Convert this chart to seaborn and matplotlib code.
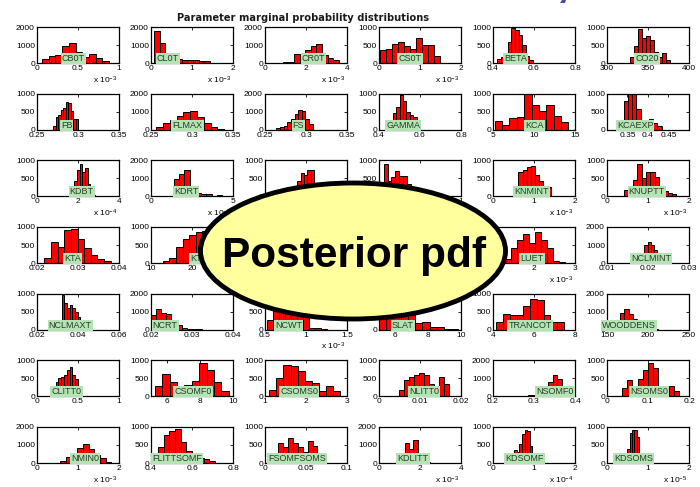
import numpy as np
import pandas as pd
import matplotlib
matplotlib.use("Agg")
import matplotlib.pyplot as plt
import matplotlib.transforms as mtransforms
from matplotlib.patches import Ellipse, Polygon
import seaborn as sns

# ---------------------------------------------------------------- data
TITLE = "Parameter marginal probability distributions"
BANNER = "Posterior pdf"

PARAM_NAMES = [
    "CB0T", "CL0T", "CR0T", "CS0T", "BETA", "CO20",
    "FB", "FLMAX", "FS", "GAMMA", "KCA", "KCAEXP",
    "KDBT", "KDRT", "KDLT", "KEXTT", "KNMINT", "KNUPTT",
    "KTA", "KTB", "LAIMAXT", "LFALLT", "LUET", "NCLMINT",
    "NCLMAXT", "NCRT", "NCWT", "SLAT", "TRANCOT", "WOODDENS",
    "CLITT0", "CSOMF0", "CSOMS0", "NLITT0", "NSOMF0", "NSOMS0",
    "NMIN0", "FLITTSOMF", "FSOMFSOMS", "KDLITT", "KDSOMF", "KDSOMS",
]

# left edge of the first bin and bin width (in axis units)
BIN_START = [
    0.06, 0.08, 0.88, 0.033, 0.42, 328,
    0.2696, 0.2562, 0.264, 0.435, 5.2, 0.331,
    1.57, 1.38, 0.313, 0.057, 0.52, 0.42,
    0.02178, 12.9, 0.2, 0.1, 1.14, 0.0175,
    0.032, 0.02, 0.52, 5.0, 4.16, 161,
    0.16, 5.24, 1.1, 0.005, 0.2726, 0.0367,
    0.416, 0.433, 0.01, 0.68, 0.52, 0.43,
]
BIN_WIDTH = [
    0.082, 0.135, 0.272, 0.146, 0.0175, 4.9,
    0.0031, 0.0083, 0.0044, 0.0165, 0.9, 0.0102,
    0.128, 0.33, 0.041, 0.047, 0.1, 0.106,
    0.00162, 1.6, 0.06, 0.07, 0.148, 0.0008,
    0.0013, 0.00124, 0.0735, 0.44, 0.33, 5.1,
    0.034, 0.45, 0.174, 0.00121, 0.0121, 0.0126,
    0.14, 0.028, 0.006, 0.2, 0.0625, 0.06,
]
BIN_COUNTS = [
    [240, 370, 460, 930, 1110, 600, 330, 520, 280, 130],
    [1760, 1110, 575, 380, 240, 150, 185, 185, 90, 130],
    [40, 60, 520, 450, 740, 950, 1030, 420, 280, 185],
    [350, 380, 540, 590, 460, 400, 700, 490, 500, 200],
    [120, 170, 250, 580, 980, 920, 790, 490, 200, 90],
    [170, 460, 940, 700, 740, 650, 300, 170, 280, 90],
    [110, 350, 420, 540, 600, 780, 740, 520, 310, 300],
    [170, 375, 560, 785, 970, 1065, 700, 355, 170, 30],
    [75, 130, 225, 410, 600, 880, 1120, 1010, 600, 320],
    [60, 180, 460, 630, 950, 790, 500, 410, 345, 60],
    [235, 140, 325, 355, 990, 690, 530, 690, 375, 225],
    [270, 790, 1000, 980, 570, 200, 150, 300, 180, 105],
    [100, 300, 440, 720, 905, 675, 795, 345, 120, 40],
    [950, 1230, 1480, 500, 200, 130, 110, 20, 60, 15],
    [80, 200, 425, 660, 600, 740, 740, 300, 150, 50],
    [890, 440, 550, 690, 560, 560, 350, 250, 150, 80],
    [80, 670, 730, 805, 835, 595, 420, 250, 270, 20],
    [175, 260, 455, 890, 510, 665, 665, 530, 300, 150, 90, 65],
    [150, 575, 450, 905, 945, 670, 405, 235, 120, 45],
    [45, 150, 435, 660, 765, 860, 900, 700, 400, 150],
    [100, 300, 600, 850, 900, 700, 450, 250, 100, 40],
    [200, 500, 800, 950, 700, 450, 300, 150, 60, 20],
    [20, 100, 425, 640, 800, 545, 860, 640, 405, 55, 20],
    [80, 300, 1000, 1190, 1000, 720, 350, 120, 40, 10],
    [970, 745, 600, 675, 600, 485, 345, 150, 60, 20],
    [820, 1140, 915, 875, 520, 285, 115, 60, 40, 40],
    [265, 820, 760, 700, 640, 600, 520, 55, 55, 10],
    [450, 700, 750, 700, 650, 180, 210, 85, 85, 5, 30],
    [220, 440, 400, 400, 650, 855, 820, 410, 220, 220],
    [150, 915, 1140, 875, 570, 250, 100, 40, 20, 20],
    [85, 250, 410, 505, 550, 580, 740, 815, 600, 495],
    [300, 615, 410, 150, 320, 430, 925, 740, 390, 160],
    [180, 505, 860, 830, 700, 430, 365, 150, 300, 150],
    [180, 460, 530, 600, 645, 600, 345, 150, 550, 335],
    [40, 55, 75, 120, 300, 780, 1200, 970, 550, 100],
    [245, 460, 120, 490, 720, 925, 785, 300, 200, 290, 150],
    [20, 110, 320, 500, 810, 1040, 755, 450, 300, 75],
    [435, 790, 895, 945, 595, 330, 200, 150, 120, 55],
    [50, 555, 445, 680, 555, 445, 310, 605, 460, 30],
    [10, 30, 80, 1130, 755, 1265, 530, 150, 55, 10],
    [360, 300, 520, 800, 905, 895, 470, 60],
    [60, 380, 830, 905, 905, 710, 120, 30],
]

X_LIMITS = [
    (0, 1), (0, 2), (0, 4), (0, 2), (0.4, 0.8), (300, 400),
    (0.25, 0.35), (0.25, 0.35), (0.25, 0.35), (0.4, 0.8), (5, 15), (0.3, 0.5),
    (0, 4), (0, 5), (0, 1), (0, 1), (0, 2), (0, 2),
    (0.02, 0.04), (10, 30), (0, 1), (0, 1), (1, 3), (0.01, 0.03),
    (0.02, 0.06), (0.02, 0.04), (0.5, 1.5), (5, 10), (4, 8), (150, 250),
    (0, 1), (5, 10), (1, 3), (0, 0.02), (0.2, 0.4), (0, 0.2),
    (0, 2), (0.4, 0.8), (0, 0.1), (0, 4), (0, 2), (0, 2),
]
X_TICKS = [
    [0, 0.5, 1], [0, 1, 2], [0, 2, 4], [0, 1, 2], [0.4, 0.6, 0.8], [300, 350, 400],
    [0.25, 0.3, 0.35], [0.25, 0.3, 0.35], [0.25, 0.3, 0.35], [0.4, 0.6, 0.8], [5, 10, 15], [0.35, 0.4, 0.45],
    [0, 2, 4], [0, 5], [0, 0.5, 1], [0, 0.5, 1], [0, 1, 2], [0, 1, 2],
    [0.02, 0.03, 0.04], [10, 20, 30], [0, 0.5, 1], [0, 0.5, 1], [1, 2, 3], [0.01, 0.02, 0.03],
    [0.02, 0.04, 0.06], [0.02, 0.03, 0.04], [0.5, 1, 1.5], [6, 8, 10], [4, 6, 8], [150, 200, 250],
    [0, 0.5, 1], [6, 8, 10], [1, 2, 3], [0, 0.01, 0.02], [0.2, 0.3, 0.4], [0, 0.1, 0.2],
    [0, 1, 2], [0.4, 0.6, 0.8], [0, 0.05, 0.1], [0, 2, 4], [0, 1, 2], [0, 1, 2],
]
Y_MAX = [
    2000, 2000, 2000, 1000, 1000, 1000,
    1000, 2000, 2000, 1000, 1000, 1000,
    1000, 2000, 1000, 1000, 1000, 1000,
    1000, 1000, 1000, 1000, 1000, 2000,
    1000, 2000, 1000, 1000, 1000, 2000,
    1000, 1000, 1000, 1000, 2000, 1000,
    2000, 1000, 1000, 2000, 1000, 1000,
]
# power of ten of the x axis (0 = no multiplier)
X_EXPONENT = [
    -3, -3, -3, -3, 0, 0,
    0, 0, 0, 0, 0, 0,
    -4, -3, -3, 0, -3, -3,
    0, 0, 0, 0, -3, 0,
    0, 0, -3, 0, 0, 0,
    0, 0, 0, 0, 0, 0,
    -3, 0, 0, -3, -4, -5,
]

# ---------------------------------------------------------------- style
sns.set_style("white")
plt.rcParams["font.family"] = ["Liberation Sans", "DejaVu Sans"]
plt.rcParams["mathtext.default"] = "regular"

BAR_RED = "#ff0000"
TAG_GREEN = "#b4e4b4"
TAG_TEXT = "#2b3b2b"

fig, axes = plt.subplots(7, 6, figsize=(7.0, 4.87), dpi=100)
fig.subplots_adjust(left=37 / 700, right=689 / 700,
                    top=1 - 27 / 487, bottom=1 - 463 / 487,
                    wspace=0.39, hspace=0.85)

for i, ax in enumerate(axes.flat):
    counts = np.asarray(BIN_COUNTS[i], dtype=float)
    edges = BIN_START[i] + BIN_WIDTH[i] * np.arange(len(counts) + 1)
    centers = 0.5 * (edges[:-1] + edges[1:])
    frame = pd.DataFrame({"value": centers, "count": counts})

    sns.histplot(data=frame, x="value", weights="count", bins=edges.tolist(),
                 ax=ax, stat="count", element="bars", fill=True,
                 color=BAR_RED, edgecolor="black", linewidth=0.7, alpha=1.0)

    ax.set_xlim(*X_LIMITS[i])
    ax.set_ylim(0, Y_MAX[i])
    ax.set_xticks(X_TICKS[i])
    ax.set_xticklabels(["%g" % t for t in X_TICKS[i]])
    yt = [0, Y_MAX[i] // 2, Y_MAX[i]]
    ax.set_yticks(yt)
    ax.set_yticklabels(["%d" % t for t in yt])
    ax.set_xlabel("")
    ax.set_ylabel("")
    ax.tick_params(direction="in", top=True, right=True, length=2.2,
                   width=0.6, labelsize=6, pad=1.5, colors="black")
    for sp in ax.spines.values():
        sp.set_visible(True)
        sp.set_linewidth(0.9)
        sp.set_color("black")

    # parameter tag at the mean of the marginal distribution
    mean = np.average(centers, weights=counts)
    trans = mtransforms.blended_transform_factory(ax.transData, ax.transAxes)
    ax.text(mean, 0.125, PARAM_NAMES[i], transform=trans,
            ha="center", va="center", fontsize=6.5, color=TAG_TEXT,
            bbox=dict(boxstyle="square,pad=0.12", fc=TAG_GREEN, ec="none"),
            zorder=6, clip_on=False)

    if X_EXPONENT[i]:
        ax.text(0.985, -0.56, r"x 10$^{%d}$" % X_EXPONENT[i],
                transform=ax.transAxes, ha="right", va="baseline",
                fontsize=6, color="black")

fig.text(303 / 700, 1 - 21 / 487, TITLE, ha="center", va="baseline",
         fontsize=7.1, fontweight="bold", color="#1a1a1a",
         family=["DejaVu Sans"])

# small blue mark at the top edge
fig.add_artist(Polygon([(560 / 700, 1 - 3 / 487), (565 / 700, 1 - 3 / 487),
                        (566 / 700, 1.0), (562 / 700, 1.0)],
                       closed=True, transform=fig.transFigure,
                       fc="#4a4aa8", ec="none", zorder=12))

# yellow banner on top of the grid
fig.add_artist(Ellipse((353 / 700, 1 - 251 / 487), 305 / 700, 136 / 487,
                       transform=fig.transFigure, fc="#ffff9e", ec="black",
                       lw=3.5, zorder=20))
fig.text(354 / 700, 1 - 267 / 487, BANNER, ha="center", va="baseline",
         fontsize=30.5, fontweight="bold", color="black", zorder=21)

fig.savefig("out.png", dpi=100)
